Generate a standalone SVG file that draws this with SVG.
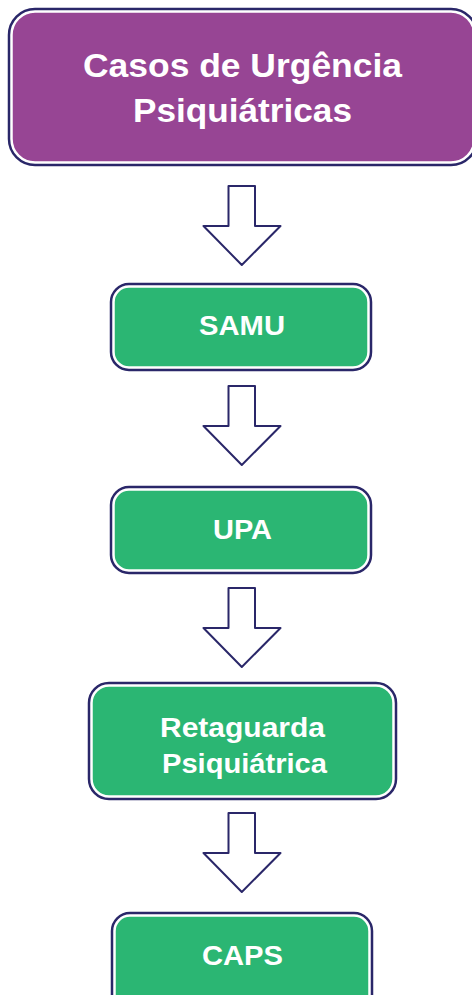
<svg xmlns="http://www.w3.org/2000/svg" width="472" height="995" viewBox="0 0 472 995">
<defs>
<style>
.outer{fill:none;stroke:#2a2769;stroke-width:2.5}
.inP{fill:#974594;stroke:#ffffff;stroke-width:1.5}
.inG{fill:#2bb673;stroke:#ffffff;stroke-width:1.5}
.t{font-family:"Liberation Sans",Arial,Helvetica,sans-serif;font-weight:bold;fill:#ffffff;text-anchor:middle}
.arr{fill:#ffffff;stroke:#2a2769;stroke-width:2;stroke-linejoin:round}
</style>
</defs>
<rect width="472" height="995" fill="#ffffff"/>
<g id="casos">
<rect class="outer" x="9" y="9" width="468" height="156" rx="26"/>
<rect class="inP" x="12" y="12" width="462" height="150" rx="23"/>
<text class="t" x="242.5" y="77" font-size="33.5" textLength="319" lengthAdjust="spacingAndGlyphs">Casos de Urgência</text>
<text class="t" x="242.5" y="122" font-size="33.5" textLength="219" lengthAdjust="spacingAndGlyphs">Psiquiátricas</text>
</g>
<g id="samu">
<rect class="outer" x="111" y="284" width="260" height="86" rx="18"/>
<rect class="inG" x="114" y="287" width="254" height="80" rx="15"/>
<text class="t" x="242" y="335" font-size="27.5" textLength="86" lengthAdjust="spacingAndGlyphs">SAMU</text>
</g>
<g id="upa">
<rect class="outer" x="111" y="487" width="260" height="86" rx="18"/>
<rect class="inG" x="114" y="490" width="254" height="80" rx="15"/>
<text class="t" x="242.5" y="539" font-size="27.5" textLength="59" lengthAdjust="spacingAndGlyphs">UPA</text>
</g>
<g id="retaguarda">
<rect class="outer" x="89" y="683" width="307" height="116" rx="20"/>
<rect class="inG" x="92" y="686" width="301" height="110" rx="17"/>
<text class="t" x="242.5" y="737" font-size="27.5" textLength="165" lengthAdjust="spacingAndGlyphs">Retaguarda</text>
<text class="t" x="244.5" y="773" font-size="27.5" textLength="165" lengthAdjust="spacingAndGlyphs">Psiquiátrica</text>
</g>
<g id="caps">
<rect class="outer" x="112" y="913" width="260" height="100" rx="18"/>
<rect class="inG" x="115" y="916" width="254" height="94" rx="15"/>
<text class="t" x="242.5" y="965" font-size="27.5" textLength="81" lengthAdjust="spacingAndGlyphs">CAPS</text>
</g>
<g id="connectors">
<path class="arr" d="M228.5 186 H255 V226 H280.5 L241.8 265 L203.5 226 H228.5 Z"/>
<path class="arr" d="M228.5 386 H255 V426 H280.5 L241.8 465 L203.5 426 H228.5 Z"/>
<path class="arr" d="M228.5 588 H255 V628 H280.5 L241.8 667 L203.5 628 H228.5 Z"/>
<path class="arr" d="M228.5 813 H255 V853 H280.5 L241.8 892 L203.5 853 H228.5 Z"/>
</g>
</svg>
